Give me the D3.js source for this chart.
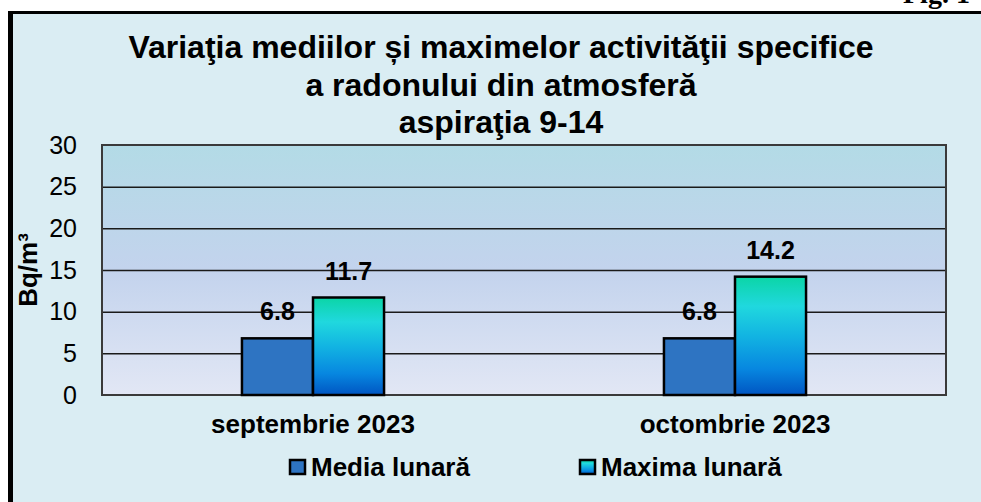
<!DOCTYPE html>
<html><head><meta charset="utf-8">
<script src="https://cdn.jsdelivr.net/npm/d3@7"></script>
<style>
html,body{margin:0;padding:0;background:#fff;}
svg{display:block;font-family:"Liberation Sans",Arial,sans-serif;}
</style></head>
<body>
<svg id="c" width="981" height="502"></svg>
<script>
const categories = ["septembrie 2023", "octombrie 2023"];
const seriesNames = ["Media lunară", "Maxima lunară"];
const mediaValues = [6.8, 6.8];
const maximaValues = [11.7, 14.2];
const yTicks = [0, 5, 10, 15, 20, 25, 30];
const titleLines = ["Variaţia mediilor și maximelor activităţii specifice", "a radonului din atmosferă", "aspiraţia 9-14"];
const yAxisTitle = "Bq/m³";

const svg = d3.select("#c");
const W = 981, H = 502;
const m = {left: 102, right: 946, top: 145, bottom: 395};

const defs = svg.append("defs");
const pg = defs.append("linearGradient").attr("id","plotbg").attr("x1",0).attr("y1",0).attr("x2",0).attr("y2",1);
[["0%","#b3dbe6"],["50%","#c3d3ed"],["100%","#e2e7f5"]].forEach(s=>pg.append("stop").attr("offset",s[0]).attr("stop-color",s[1]));
const bg = defs.append("linearGradient").attr("id","maxg").attr("x1",0).attr("y1",0).attr("x2",0).attr("y2",1);
[["0%","#0bd5a6"],["25%","#20d8de"],["50%","#12b4e2"],["78%","#0787e0"],["100%","#0055c2"]].forEach(s=>bg.append("stop").attr("offset",s[0]).attr("stop-color",s[1]));

// outer background & frame
svg.append("rect").attr("x",8).attr("y",11).attr("width",W).attr("height",H).attr("fill","#daedf3");
svg.append("line").attr("x1",10.5).attr("x2",10.5).attr("y1",11).attr("y2",H).attr("stroke","#000").attr("stroke-width",5);
svg.append("line").attr("x1",8).attr("x2",W).attr("y1",12.5).attr("y2",12.5).attr("stroke","#000").attr("stroke-width",3);
svg.append("text").attr("x",903).attr("y",3).attr("font-family","Liberation Serif, serif").attr("font-weight","bold").attr("font-size",28).text("Fig. 1");

// title
const title = svg.append("text").attr("text-anchor","middle").attr("font-weight","bold").attr("font-size",32).attr("fill","#000");
titleLines.forEach((t,i)=>title.append("tspan").attr("x",501).attr("y",58+i*37.5).text(t));

// scales
const y = d3.scaleLinear().domain([0,30]).range([m.bottom, m.top]);
const x0 = d3.scaleBand().domain(categories).range([m.left, m.right]).padding(0);
const x1 = d3.scaleBand().domain(seriesNames).range([0, x0.bandwidth()]).paddingInner(0).paddingOuter(1.97);

// plot area
svg.append("rect").attr("x",m.left).attr("y",m.top).attr("width",m.right-m.left).attr("height",m.bottom-m.top).attr("fill","url(#plotbg)");

// gridlines
const grid = svg.append("g").attr("transform",`translate(${m.left},0)`)
  .call(d3.axisLeft(y).tickValues(yTicks.filter(v=>v>0 && v<30)).tickSize(-(m.right-m.left)).tickFormat(""));
grid.select(".domain").remove();
grid.selectAll("line").attr("stroke","#1a1a1a").attr("stroke-width",1.5);

// plot border
svg.append("rect").attr("x",m.left).attr("y",m.top).attr("width",m.right-m.left).attr("height",m.bottom-m.top).attr("fill","none").attr("stroke","#3a3a3a").attr("stroke-width",2);

// y axis labels
const ya = svg.append("g").attr("transform",`translate(${m.left},0)`)
  .call(d3.axisLeft(y).tickValues(yTicks).tickSize(0).tickPadding(25));
ya.select(".domain").remove();
ya.selectAll("text").attr("font-size",25).attr("font-family","Liberation Sans, Arial, sans-serif").attr("fill","#000");

// x axis labels
const xa = svg.append("g").attr("transform",`translate(0,${m.bottom})`)
  .call(d3.axisBottom(x0).tickSize(0).tickPadding(19.5));
xa.select(".domain").remove();
xa.selectAll("text").attr("font-size",26).attr("font-weight","bold").attr("font-family","Liberation Sans, Arial, sans-serif").attr("fill","#000");

// y axis title
svg.append("text").attr("transform",`translate(37,${(m.top+m.bottom)/2}) rotate(-90)`).attr("text-anchor","middle")
  .attr("font-size",26).attr("font-weight","bold").text(yAxisTitle);

// bars
const data = categories.map((c,i)=>({cat:c, vals:[{s:seriesNames[0],v:mediaValues[i]},{s:seriesNames[1],v:maximaValues[i]}]}));
const fills = {"Media lunară":"#2e74c2","Maxima lunară":"url(#maxg)"};
const groups = svg.selectAll("g.grp").data(data).enter().append("g").attr("class","grp").attr("transform",d=>`translate(${x0(d.cat)},0)`);
groups.selectAll("rect").data(d=>d.vals).enter().append("rect")
  .attr("x",d=>x1(d.s)).attr("y",d=>y(d.v)).attr("width",x1.bandwidth()).attr("height",d=>y(0)-y(d.v))
  .attr("fill",d=>fills[d.s]).attr("stroke","#000").attr("stroke-width",2.5);
groups.selectAll("text.lbl").data(d=>d.vals).enter().append("text").attr("class","lbl")
  .attr("x",d=>x1(d.s)+x1.bandwidth()/2).attr("y",d=>y(d.v)-18).attr("text-anchor","middle")
  .attr("font-size",25).attr("font-weight","bold").text(d=>d.v.toFixed(1));

// legend
const legX = [290, 580];
seriesNames.forEach((s,i)=>{
  svg.append("rect").attr("x",legX[i]).attr("y",460).attr("width",15).attr("height",14)
    .attr("fill",fills[s]).attr("stroke","#000").attr("stroke-width",2.5);
  svg.append("text").attr("x",legX[i]+21).attr("y",476).attr("font-size",26).attr("font-weight","bold").text(s);
});
</script>
</body></html>
